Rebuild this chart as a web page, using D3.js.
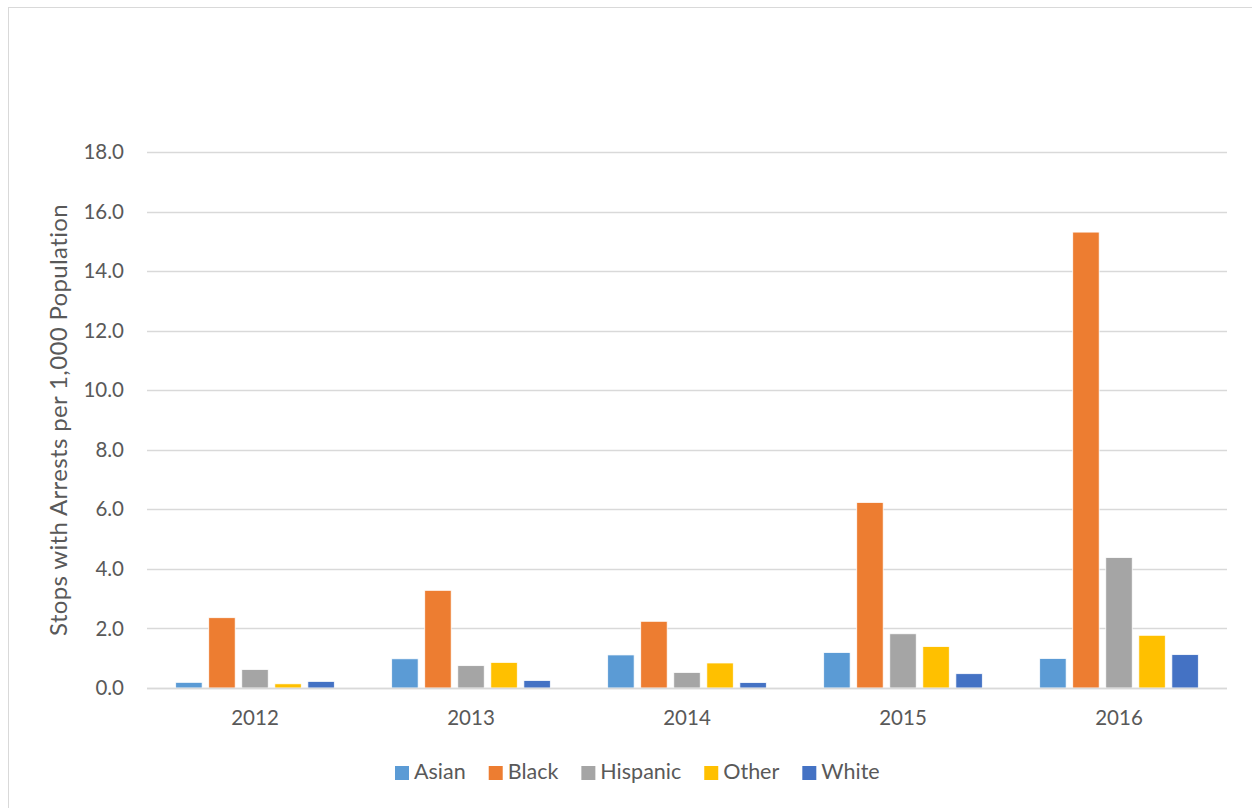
<!DOCTYPE html>
<html>
<head>
<meta charset="utf-8">
<script src="https://cdn.jsdelivr.net/npm/d3@7"></script>
<style>
  html, body { margin: 0; padding: 0; background: #fff; }
  svg { display: block; }
  text { font-family: Lato, "Open Sans", sans-serif; fill: #595959; }
</style>
</head>
<body>
<svg id="chart" width="1252" height="808"></svg>
<script>
const years = ["2012", "2013", "2014", "2015", "2016"];
const seriesNames = ["Asian", "Black", "Hispanic", "Other", "White"];
const seriesColors = ["#5B9BD5", "#ED7D31", "#A5A5A5", "#FFC000", "#4472C4"];
const asian = [0.19, 0.98, 1.11, 1.19, 0.99];
const black = [2.36, 3.28, 2.24, 6.23, 15.31];
const hispanic = [0.62, 0.75, 0.52, 1.82, 4.38];
const other = [0.14, 0.86, 0.84, 1.39, 1.77];
const white = [0.22, 0.25, 0.18, 0.48, 1.12];
const yTicks = [0, 2, 4, 6, 8, 10, 12, 14, 16, 18];
const yLabel = "Stops with Arrests per 1,000 Population";

const seriesValues = [asian, black, hispanic, other, white];

const svg = d3.select("#chart");

// outer chart border
svg.append("rect")
  .attr("x", 8.5).attr("y", 7.5)
  .attr("width", 1270).attr("height", 820)
  .attr("fill", "none").attr("stroke", "#D9D9D9").attr("stroke-width", 1);

const plot = { left: 147, right: 1227, top: 152, bottom: 688 };

const y = d3.scaleLinear().domain([0, 18]).range([plot.bottom, plot.top]);
const x0 = d3.scaleBand().domain(years).range([plot.left, plot.right]).padding(0);
const x1 = d3.scaleBand().domain(seriesNames)
  .range([28.7, x0.bandwidth() - 28.7]).paddingInner(0.2).paddingOuter(0);

// gridlines
svg.append("g").selectAll("line").data(yTicks).join("line")
  .attr("x1", plot.left).attr("x2", plot.right)
  .attr("y1", d => Math.round(y(d)) + 0.5).attr("y2", d => Math.round(y(d)) + 0.5)
  .attr("stroke", "#D9D9D9").attr("stroke-width", 1.3);

// y axis labels
const yAxis = d3.axisLeft(y).tickValues(yTicks).tickFormat(d => d.toFixed(1)).tickSize(0).tickPadding(0);
const yg = svg.append("g").attr("transform", `translate(124,0)`).call(yAxis);
yg.select(".domain").remove();
yg.selectAll("text").attr("font-size", 20.5).attr("fill", "#595959")
  .style("font-family", "Lato, 'Open Sans', sans-serif");

// bars
const groups = svg.append("g").selectAll("g").data(years).join("g")
  .attr("transform", d => `translate(${x0(d)},0)`);
groups.selectAll("rect")
  .data((yr, i) => seriesNames.map((s, j) => ({ s, v: seriesValues[j][i], c: seriesColors[j] })))
  .join("rect")
  .attr("x", d => x1(d.s))
  .attr("width", x1.bandwidth())
  .attr("y", d => y(d.v))
  .attr("height", d => y(0) - y(d.v))
  .attr("fill", d => d.c)
  .attr("stroke", "#fff").attr("stroke-width", 0.75);

// baseline
svg.append("line")
  .attr("x1", plot.left).attr("x2", plot.right)
  .attr("y1", plot.bottom + 0.5).attr("y2", plot.bottom + 0.5)
  .attr("stroke", "#D9D9D9").attr("stroke-width", 1.5);

// x axis labels
const xAxis = d3.axisBottom(x0).tickSize(0).tickPadding(0);
const xg = svg.append("g").attr("transform", `translate(0,${plot.bottom})`).call(xAxis);
xg.select(".domain").remove();
xg.selectAll("text").attr("font-size", 20.5).attr("dy", 0).attr("y", 37)
  .attr("fill", "#595959").style("font-family", "Lato, 'Open Sans', sans-serif");

// y axis title
svg.append("text")
  .attr("transform", `translate(67,420) rotate(-90)`)
  .attr("text-anchor", "middle")
  .attr("font-size", 24)
  .attr("letter-spacing", 0.35)
  .text(yLabel);

// legend
const legend = svg.append("g").attr("transform", "translate(0,772)");
let lx = 395;
seriesNames.forEach((s, i) => {
  legend.append("rect").attr("x", lx).attr("y", -6).attr("width", 14).attr("height", 14)
    .attr("fill", seriesColors[i]);
  const t = legend.append("text").attr("x", lx + 19).attr("y", 7).attr("font-size", 21.5).text(s);
  lx += 19 + t.node().getComputedTextLength() + 23;
});
</script>
</body>
</html>
